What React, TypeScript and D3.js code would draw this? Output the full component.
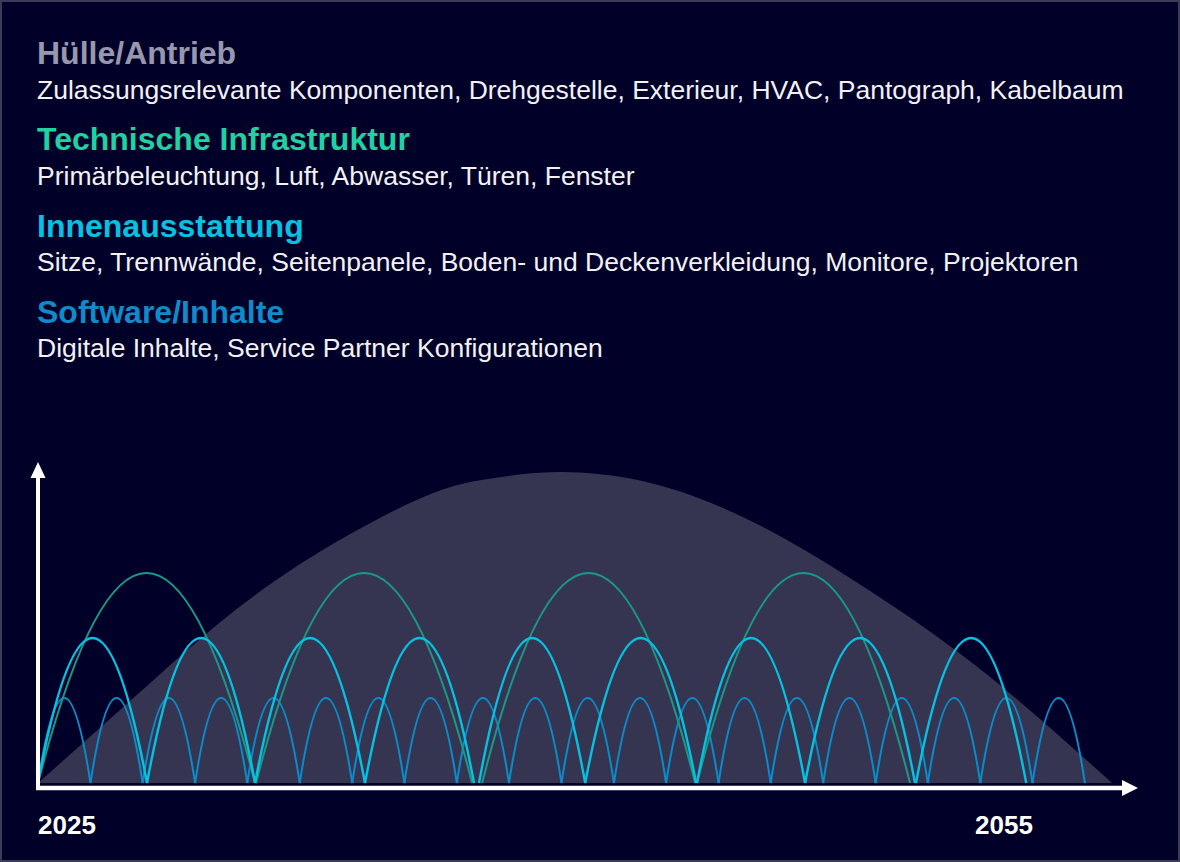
import { useEffect } from "react";
import * as d3 from "d3";

// ─── Data ─────────────────────────────────────────────────────────────────────

const groupTitles = ["Hülle/Antrieb", "Technische Infrastruktur", "Innenausstattung", "Software/Inhalte"];
const groupItems = [
  "Zulassungsrelevante Komponenten, Drehgestelle, Exterieur, HVAC, Pantograph, Kabelbaum",
  "Primärbeleuchtung, Luft, Abwasser, Türen, Fenster",
  "Sitze, Trennwände, Seitenpanele, Boden- und Deckenverkleidung, Monitore, Projektoren",
  "Digitale Inhalte, Service Partner Konfigurationen",
];
const groupColors = ["#9797ad", "#1fd2a2", "#08c0e2", "#0f8bc9"];

const yearTicks = [2025, 2055];

// Hülle/Antrieb – vehicle lifetime hump (relative level 0..100)
const humpYears = [
  2025.0, 2028.27, 2030.41, 2033.39, 2037.23, 2039.47, 2041.62, 2044.28, 2046.84, 2049.4, 2052.6, 2055.8, 2059.39,
];
const humpValues = [0, 28.4, 46.8, 68.4, 88.9, 95.1, 97.2, 94.5, 86.3, 73.6, 53.8, 30.6, 0];

// Technische Infrastruktur – cycles [start, end]
const infraCycles = [
  [2025.0, 2031.95],
  [2031.98, 2038.9],
  [2039.22, 2046.04],
  [2046.1, 2052.92],
];
const infraHeight = 65.6;

// Innenausstattung – cycles [start, end]
const interiorCycles = [
  [2025.0, 2028.49],
  [2028.49, 2031.95],
  [2031.95, 2035.47],
  [2035.47, 2038.96],
  [2039.12, 2042.52],
  [2042.52, 2046.07],
  [2046.1, 2049.56],
  [2049.56, 2053.08],
  [2053.11, 2056.64],
];
const interiorHeight = 45.3;

// Software/Inhalte – cycle start years (each runs until the next one)
const softwareStarts = [
  2025.0, 2026.68, 2028.35, 2030.03, 2031.7, 2033.38, 2035.06, 2036.73, 2038.41, 2040.08,
  2041.76, 2043.44, 2045.11, 2046.79, 2048.46, 2050.14, 2051.82, 2053.49, 2055.17, 2056.84, 2058.52,
];
const softwareHeight = 26.6;

// ─── Chart ────────────────────────────────────────────────────────────────────

const W = 1180;
const H = 862;
const FONT = "'Liberation Sans', Arial, Helvetica, sans-serif";

const xScale = d3.scaleLinear().domain([2025, 2055]).range([38, 975]);
const yScale = d3.scaleLinear().domain([0, 100]).range([783, 463]);

function cyclePath(start: number, end: number, h: number) {
  const p = d3.path();
  const x0 = xScale(start);
  const x1 = xScale(end);
  p.moveTo(x0, yScale(0));
  p.quadraticCurveTo((x0 + x1) / 2, yScale(2 * h), x1, yScale(0));
  return p.toString();
}

export default function App() {
  useEffect(() => {
    document.body.style.margin = "0";
  }, []);

  const humpData = humpYears.map((year, i) => ({ year, value: humpValues[i] }));
  const hump = d3
    .area<{ year: number; value: number }>()
    .x((d) => xScale(d.year))
    .y0(yScale(0))
    .y1((d) => yScale(d.value))
    .curve(d3.curveNatural)(humpData);

  const softwareCycles = softwareStarts.slice(0, -1).map((s, i) => [s, softwareStarts[i + 1]]);

  const axisY = yScale(0) + 5;
  const axisX = xScale(2025);
  const xEnd = 1138;
  const yTop = 462;

  return (
    <svg width={W} height={H} style={{ display: "block", position: "absolute", left: 0, top: 0 }} fontFamily={FONT}>
      <rect x={0} y={0} width={W} height={H} fill="#000028" />
      <rect x={1} y={1} width={W - 2} height={H - 2} fill="none" stroke="#3b3b57" strokeWidth={2} />

      {/* Legend text */}
      {groupTitles.map((t, i) => (
        <g key={t}>
          <text x={37} y={63.5 + i * 86.5} fontSize={32} fontWeight="bold" fill={groupColors[i]}>
            {t}
          </text>
          <text x={37} y={98.5 + i * 86} fontSize={26.5} fill="#f2f2f5">
            {groupItems[i]}
          </text>
        </g>
      ))}

      {/* Hülle/Antrieb */}
      <path d={hump ?? ""} fill="#353552" />

      {/* Software/Inhalte */}
      {softwareCycles.map(([s, e], i) => (
        <path key={"sw" + i} d={cyclePath(s, e, softwareHeight)} fill="none" stroke="#0a8cca" strokeWidth={2} />
      ))}

      {/* Technische Infrastruktur */}
      {infraCycles.map(([s, e], i) => (
        <path key={"in" + i} d={cyclePath(s, e, infraHeight)} fill="none" stroke="#1a9a86" strokeWidth={2} />
      ))}

      {/* Innenausstattung */}
      {interiorCycles.map(([s, e], i) => (
        <path key={"ia" + i} d={cyclePath(s, e, interiorHeight)} fill="none" stroke="#06c2e2" strokeWidth={2.4} />
      ))}

      {/* Axes */}
      <line x1={axisX} x2={axisX} y1={axisY + 2} y2={yTop + 14} stroke="#ffffff" strokeWidth={4} />
      <polygon points={`${axisX},${yTop} ${axisX - 7.5},${yTop + 16} ${axisX + 7.5},${yTop + 16}`} fill="#ffffff" />
      <line x1={axisX - 2} x2={xEnd - 14} y1={axisY} y2={axisY} stroke="#ffffff" strokeWidth={4.5} />
      <polygon points={`${xEnd},${axisY} ${xEnd - 16},${axisY - 8} ${xEnd - 16},${axisY + 8}`} fill="#ffffff" />

      {yearTicks.map((y) => (
        <text key={y} x={xScale(y)} y={834} fontSize={26} fontWeight="bold" fill="#ffffff">
          {y}
        </text>
      ))}
    </svg>
  );
}
